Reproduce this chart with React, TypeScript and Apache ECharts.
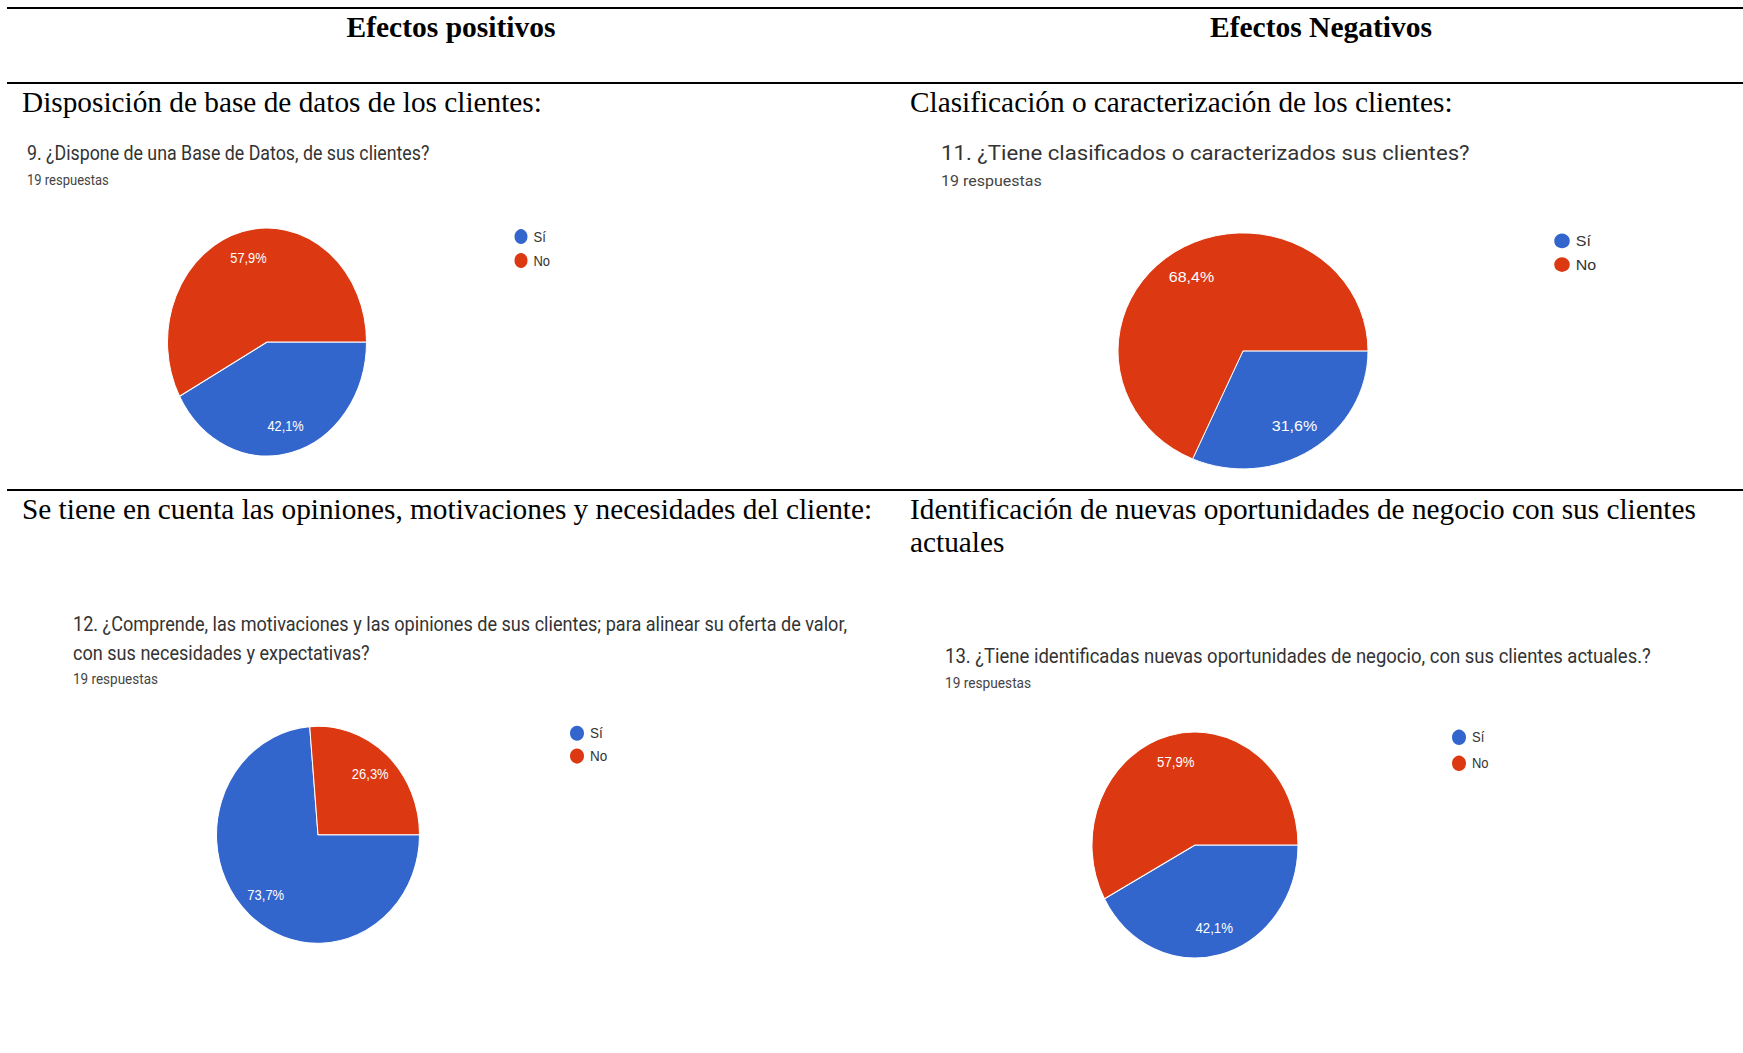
import React, { useEffect, useRef } from "react";
import * as echarts from "echarts";

// Answer categories shared by every survey question
const categories = ["Sí", "No"];
const sliceColors = ["#3366CC", "#DC3912"];

// Percentage of answers per category (Sí, No)
const q9Values = [42.1, 57.9];
const q11Values = [31.6, 68.4];
const q12Values = [73.7, 26.3];
const q13Values = [42.1, 57.9];

// Table texts
const columnHeaders = ["Efectos positivos", "Efectos Negativos"];
const rowTitlesLeft = [
  "Disposición de base de datos de los clientes:",
  "Se tiene en cuenta las opiniones, motivaciones y necesidades del cliente:",
];
const rowTitlesRight = [
  "Clasificación o caracterización de los clientes:",
  "Identificación de nuevas oportunidades de negocio con sus clientes\nactuales",
];

// Survey question titles
const questionTitles = [
  "9. ¿Dispone de una Base de Datos, de sus clientes?",
  "11. ¿Tiene clasificados o caracterizados sus clientes?",
  "12. ¿Comprende, las motivaciones y las opiniones de sus clientes; para alinear su oferta de valor,\ncon sus necesidades y expectativas?",
  "13. ¿Tiene identificadas nuevas oportunidades de negocio, con sus clientes actuales.?",
];
const responsesLabel = "19 respuestas";

const SERIF = "'Liberation Serif', 'Times New Roman', serif";
const SANS = "Roboto, 'Liberation Sans', Arial, sans-serif";
const ARIAL = "'Liberation Sans', Arial, sans-serif";

type PanelCfg = {
  values: number[];
  title: string;
  left: number;
  top: number;
  width: number;
  height: number;
  sy: number;
  titleX: number;
  titleY: number;
  titleSize: number;
  titleLH: number;
  subY: number;
  subSize: number;
  legendLeft: number;
  legendTop: number;
  icon: number;
  legendGap: number;
  legendFont: number;
  cx: number;
  cy: number;
  r: number;
  labelSize: number;
};

const panels: PanelCfg[] = [
  {
    values: q9Values, title: questionTitles[0],
    left: 0, top: 130, width: 860, height: 300, sy: 1.146,
    titleX: 27, titleY: 20.1, titleSize: 17.8, titleLH: 24,
    subY: 43.6, subSize: 13,
    legendLeft: 512.5, legendTop: 84.5, icon: 15, legendGap: 3.9, legendFont: 13,
    cx: 267, cy: 185, r: 99.5, labelSize: 12.8,
  },
  {
    values: q11Values, title: questionTitles[1],
    left: 880, top: 130, width: 860, height: 370, sy: 0.944,
    titleX: 61, titleY: 24.4, titleSize: 22.2, titleLH: 28,
    subY: 54, subSize: 16,
    legendLeft: 672.25, legendTop: 107.75, icon: 17.5, legendGap: 5.5, legendFont: 16,
    cx: 363, cy: 234, r: 125, labelSize: 16,
  },
  {
    values: q12Values, title: questionTitles[2],
    left: 0, top: 600, width: 870, height: 340, sy: 1.069,
    titleX: 73, titleY: 23.4, titleSize: 18.1, titleLH: 27,
    subY: 73.9, subSize: 13.5,
    legendLeft: 568, legendTop: 115.6, icon: 16, legendGap: 3.4, legendFont: 13.5,
    cx: 318, cy: 219.6, r: 101.5, labelSize: 13,
  },
  {
    values: q13Values, title: questionTitles[3],
    left: 880, top: 630, width: 860, height: 320, sy: 1.097,
    titleX: 65, titleY: 23.7, titleSize: 18.5, titleLH: 24,
    subY: 48.3, subSize: 13.7,
    legendLeft: 570, legendTop: 88.8, icon: 16, legendGap: 5.7, legendFont: 13,
    cx: 315, cy: 196, r: 103, labelSize: 13.2,
  },
];

const pct = (v: number) => `${v.toFixed(1).replace(".", ",")}%`;

function PiePanel({ cfg }: { cfg: PanelCfg }) {
  const ref = useRef<HTMLDivElement>(null);
  useEffect(() => {
    const chart = echarts.init(ref.current!, null, { renderer: "svg" });
    const data = categories.map((name, i) => ({
      name,
      value: cfg.values[i],
      itemStyle: { color: sliceColors[i] },
    }));
    const labelData = categories.map((name, i) => ({
      name,
      value: cfg.values[i],
      itemStyle: { color: "rgba(0,0,0,0)" },
    }));
    chart.setOption({
      animation: false,
      graphic: [
        {
          type: "text",
          x: cfg.titleX,
          y: cfg.titleY - cfg.titleLH / 2,
          silent: true,
          style: {
            text: cfg.title,
            fill: "#333333",
            fontSize: cfg.titleSize,
            fontFamily: SANS,
            lineHeight: cfg.titleLH,
            verticalAlign: "top",
          },
        },
        {
          type: "text",
          x: cfg.titleX,
          y: cfg.subY,
          silent: true,
          style: {
            text: responsesLabel,
            fill: "#444444",
            fontSize: cfg.subSize,
            fontFamily: SANS,
            verticalAlign: "middle",
          },
        },
      ],
      legend: {
        orient: "vertical",
        left: cfg.legendLeft,
        top: cfg.legendTop,
        padding: 0,
        icon: "circle",
        itemWidth: cfg.icon,
        itemHeight: cfg.icon,
        itemGap: cfg.legendGap,
        selectedMode: false,
        textStyle: {
          fontSize: cfg.legendFont,
          lineHeight: cfg.icon,
          color: "#333333",
          fontFamily: ARIAL,
        },
        data: categories.map((name, i) => ({ name, itemStyle: { color: sliceColors[i] } })),
      },
      series: [
        {
          type: "pie",
          center: [cfg.cx, cfg.cy],
          radius: [0, cfg.r],
          startAngle: 0,
          clockwise: true,
          silent: true,
          avoidLabelOverlap: false,
          label: { show: false },
          labelLine: { show: false },
          itemStyle: { borderColor: "#ffffff", borderWidth: 1 },
          emphasis: { disabled: true },
          data,
        },
        {
          // label carrier: transparent ring so the value labels sit at ~73% of the radius
          type: "pie",
          center: [cfg.cx, cfg.cy],
          radius: [cfg.r * 0.46, cfg.r],
          startAngle: 0,
          clockwise: true,
          silent: true,
          avoidLabelOverlap: false,
          label: {
            show: true,
            position: "inside",
            formatter: (p: any) => pct(p.value),
            color: "#ffffff",
            fontSize: cfg.labelSize,
            fontFamily: ARIAL,
          },
          labelLine: { show: false },
          emphasis: { disabled: true },
          data: labelData,
        },
      ],
    });
    return () => chart.dispose();
  }, [cfg]);
  return (
    <div
      ref={ref}
      style={{
        position: "absolute",
        left: cfg.left,
        top: cfg.top,
        width: cfg.width,
        height: cfg.height,
        transform: `scaleY(${cfg.sy})`,
        transformOrigin: "0 0",
      }}
    />
  );
}

function TableFrame() {
  const ref = useRef<HTMLDivElement>(null);
  useEffect(() => {
    const chart = echarts.init(ref.current!, null, { renderer: "svg" });
    const rule = (y: number) => ({
      type: "line",
      silent: true,
      shape: { x1: 7, y1: y, x2: 1743, y2: y },
      style: { stroke: "#000000", lineWidth: 2 },
    });
    const serif = (text: string, x: number, y: number, bold = false, align = "left") => ({
      type: "text",
      x,
      y,
      silent: true,
      style: {
        text,
        fill: "#000000",
        fontSize: bold ? 29.5 : 29.3,
        fontWeight: bold ? "bold" : "normal",
        fontFamily: SERIF,
        lineHeight: 33,
        align,
        verticalAlign: "top",
      },
    });
    chart.setOption({
      animation: false,
      graphic: [
        rule(8),
        rule(83),
        rule(490),
        serif(columnHeaders[0], 451, 10.5, true, "center"),
        serif(columnHeaders[1], 1321, 10.5, true, "center"),
        serif(rowTitlesLeft[0], 22, 85.5),
        serif(rowTitlesRight[0], 910, 85.5),
        serif(rowTitlesLeft[1], 22, 492.5),
        serif(rowTitlesRight[1], 910, 492.5),
      ],
    });
    return () => chart.dispose();
  }, []);
  return (
    <div
      ref={ref}
      style={{ position: "absolute", left: 0, top: 0, width: 1743, height: 1053 }}
    />
  );
}

export default function App() {
  return (
    <div
      style={{
        position: "absolute",
        left: 0,
        top: 0,
        width: 1743,
        height: 1053,
        background: "#ffffff",
        overflow: "hidden",
      }}
    >
      <TableFrame />
      {panels.map((cfg, i) => (
        <PiePanel key={i} cfg={cfg} />
      ))}
    </div>
  );
}
